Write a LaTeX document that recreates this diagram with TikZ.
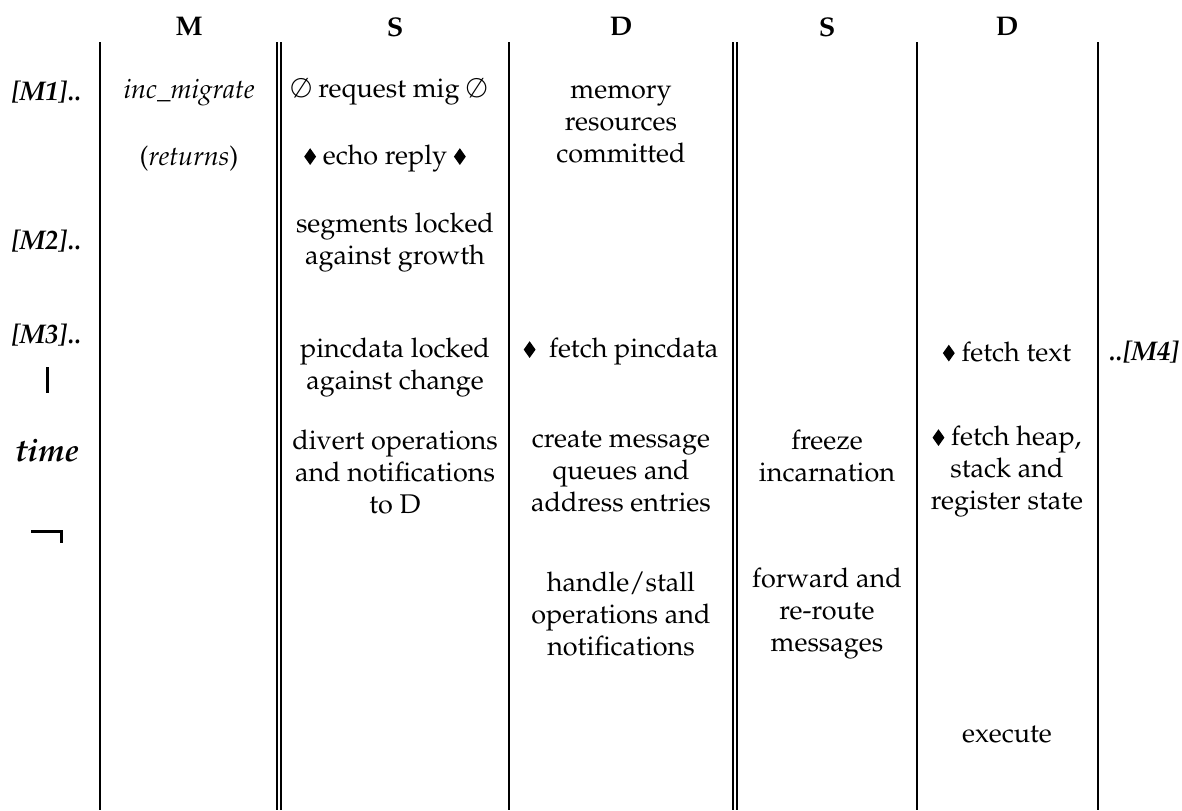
\documentclass[tikz,border=0pt]{standalone}
\usepackage[T1]{fontenc}
\usepackage{mathpazo}
% small filled diamond used as a message marker
\newcommand{\dmd}{\tikz[baseline=0pt]\fill (0.22em,0)--(0.44em,0.31em)--(0.22em,0.62em)--(0,0.31em)--cycle;}
\begin{document}
\begin{tikzpicture}[x=0.5pt,y=-0.5pt,
  rule/.style={line width=1pt},
  cell/.style={align=center,inner sep=0pt,font=\fontsize{13.5}{16}\selectfont},
  colhead/.style={inner sep=0pt,font=\fontsize{13.5}{16}\selectfont\bfseries},
  stamp/.style={inner sep=0pt,font=\fontsize{13.5}{16}\selectfont\bfseries\itshape},
  timelbl/.style={inner sep=0pt,font=\fontsize{16}{16}\selectfont\bfseries\itshape},
  tick/.style={line width=1.5pt},
]
\useasboundingbox (0,0) rectangle (1182,810);

% column separators
\draw[rule] (100,42) -- (100,810);
\draw[rule] (277,42) -- (277,810);
\draw[rule] (281,42) -- (281,810);
\draw[rule] (509,42) -- (509,810);
\draw[rule] (733,42) -- (733,810);
\draw[rule] (737,42) -- (737,810);
\draw[rule] (917,42) -- (917,810);
\draw[rule] (1098,42) -- (1098,810);

% column headings
\node[colhead] (hM)  at (189,27)  {M};
\node[colhead] (hS1) at (395,27)  {S};
\node[colhead] (hD1) at (621,27)  {D};
\node[colhead] (hS2) at (827,27)  {S};
\node[colhead] (hD2) at (1007,27) {D};

% phase marks
\node[stamp] (m1) at (46,92)   {[M1]..};
\node[stamp] (m2) at (46,241)  {[M2]..};
\node[stamp] (m3) at (46,335)  {[M3]..};
\node[stamp] (m4) at (1144,352) {..[M4]};

% time axis
\node[timelbl] (time) at (47,450) {time};
\draw[tick] (47,367) -- (47,393);
\draw[tick] (31,531) -- (61,531) -- (61,543);

% M column
\node[cell] (incmig) at (189,92)  {\textit{inc\_migrate}};
\node[cell] (ret)    at (189,159) {(\textit{returns})};

% first S column
\node[cell] (req)    at (389,92)  {$\emptyset$ request mig $\emptyset$};
\node[cell] (echo)   at (385,159) {\dmd\ echo reply \dmd};
\node[cell] (seg)    at (395,243) {segments locked\\against growth};
\node[cell] (pinc)   at (395,368) {pincdata locked\\against change};
\node[cell] (divert) at (395,472) {divert operations\\and notifications\\to D};

% first D column
\node[cell] (mem)    at (621,124) {memory\\resources\\committed};
\node[cell] (fpinc)  at (621,352) {\dmd\ \ fetch pincdata};
\node[cell] (create) at (621,472) {create message\\queues and\\address entries};
\node[cell] (handle) at (621,614) {handle/stall\\operations and\\notifications};

% second S column
\node[cell] (freeze) at (827,456) {freeze\\incarnation};
\node[cell] (fwd)    at (827,614) {forward and\\re-route\\messages};

% second D column
\node[cell] (ftext)  at (1007,352) {\dmd\ fetch text};
\node[cell] (fheap)  at (1007,472) {\dmd\ fetch heap,\\stack and\\register state};
\node[cell] (exec)   at (1007,735) {execute};
\end{tikzpicture}
\end{document}
